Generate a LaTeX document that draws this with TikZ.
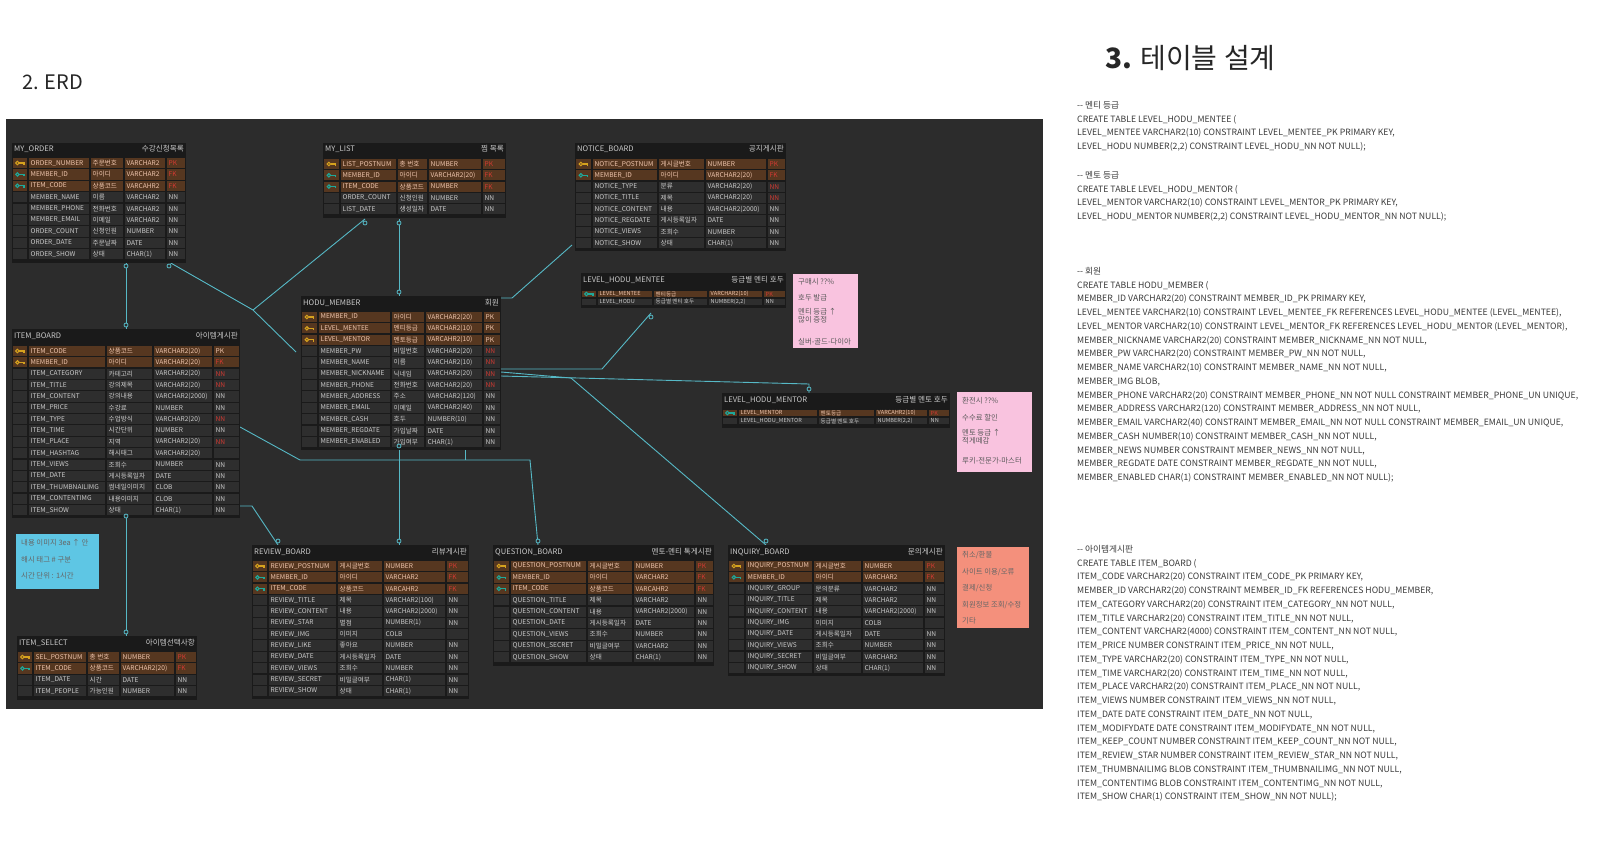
\documentclass[tikz,border=0pt]{standalone}
\usepackage{fontspec}
\setmainfont{Noto Sans CJK KR}
\definecolor{erdbg}{HTML}{2C2C2C}
\definecolor{tabbg}{HTML}{1A1A1A}
\definecolor{cellc}{HTML}{2E2E2E}
\definecolor{brownrow}{HTML}{563720}
\definecolor{celltxt}{HTML}{C9C9C9}
\definecolor{peach}{HTML}{EEC4AC}
\definecolor{conred}{HTML}{D23A32}
\definecolor{keygold}{HTML}{D6A21E}
\definecolor{keyteal}{HTML}{1FA89A}
\definecolor{linec}{HTML}{56B9C6}
\definecolor{pinkc}{HTML}{F9C3DF}
\definecolor{salmonc}{HTML}{F4907C}
\definecolor{cyanc}{HTML}{5EC6E4}
\definecolor{sqltxt}{HTML}{3A3A3A}
\catcode`\_=12
\newcommand{\R}{\color{conred}}
\newcommand{\cellf}{\fontsize{6.6}{7}\selectfont}
\newcommand{\keyicon}[3]{%
  \draw[#1,line width=1.1] ({#2-2.6},#3) circle (1.7);
  \draw[#1,line width=1.1] ({#2-0.9},#3) -- ({#2+4},#3) -- ({#2+4},{#3+1.8});}
\newcommand{\keyp}[2]{\keyicon{keygold}{#1}{#2}}
\newcommand{\keyg}[2]{\keyicon{keygold}{#1}{#2}}
\newcommand{\keyf}[2]{\keyicon{keyteal}{#1}{#2}}
\newcommand{\keyn}[2]{}
% #1 id, #2 title, #3 kor title, #4 cols, #5 ytop, #6 ytitle, #7 yrow0, #8 rowh, #9 rows
\newcommand{\erdtable}[9]{%
 \foreach \xa/\xb/\xc/\xd/\xe/\xf in {#4}{%
  \foreach \k/\n/\kr/\ty/\cn [count=\ii] in {#9}{\xdef\nrows{\ii}}%
  \pgfmathsetmacro{\ybot}{#7+(\nrows-0.5)*#8+2.5}%
  \pgfmathsetmacro{\tw}{\xf-\xa}%
  \pgfmathsetmacro{\th}{\ybot-#5}%
  \node[fill=tabbg,inner sep=0,minimum width=\tw pt,minimum height=\th pt,anchor=north west] (#1) at (\xa,#5) {};
  \node[ttl,anchor=west] (#1-t) at (\xa+2,#6) {#2};
  \node[ttl,anchor=east] (#1-k) at (\xf-2,#6) {#3};
  \foreach \k/\n/\kr/\ty/\cn [count=\i from 0] in {#9}{%
   \pgfmathsetmacro{\yc}{#7+\i*#8}%
   \pgfmathsetmacro{\ya}{\yc-#8/2+0.6}%
   \pgfmathsetmacro{\yb}{\yc+#8/2-0.6}%
   \foreach \u/\v in {\xa/\xb,\xb/\xc,\xc/\xd,\xd/\xe,\xe/\xf}{\fill[row\k] (\u+0.6,\ya) rectangle (\v-0.6,\yb);}%
   \pgfmathsetmacro{\xk}{(\xa+\xb)/2}%
   \csname key\k\endcsname{\xk}{\yc}%
   \node[cellt,txt\k] (#1-\i-a) at (\xb+2.5,\yc) {\n};
   \node[cellt,txt\k] (#1-\i-b) at (\xc+2.5,\yc) {\kr};
   \node[cellt,txt\k] (#1-\i-c) at (\xd+2.5,\yc) {\ty};
   \node[cellt,txt\k] (#1-\i-d) at (\xe+2.5,\yc) {\cn};
  }%
 }}
\begin{document}
\begin{tikzpicture}[x=1pt,y=-1pt,
  ttl/.style={inner sep=0,text=celltxt,font=\fontsize{7.6}{8}\selectfont},
  cellt/.style={anchor=west,inner sep=0,font=\cellf},
  rowp/.style={fill=brownrow}, rowf/.style={fill=brownrow}, rowg/.style={fill=brownrow}, rown/.style={fill=cellc},
  txtp/.style={text=peach}, txtf/.style={text=peach}, txtg/.style={text=peach}, txtn/.style={text=celltxt},
  conn/.style={draw=linec,line width=0.9},
  mk/.style={circle,draw=linec,fill=erdbg,line width=0.8,inner sep=0,minimum size=4},
  note/.style={inner sep=0,anchor=north west},
  notet/.style={anchor=west,inner sep=0,font=\fontsize{7.4}{8}\selectfont},
  sql/.style={anchor=north west,align=left,inner sep=0,text=sqltxt,font=\fontsize{8.7}{13.75}\selectfont}]
\useasboundingbox (0,0) rectangle (1600,852);
\fill[white] (0,0) rectangle (1600,852);
\node[anchor=west,inner sep=0,font=\fontsize{20}{22}\selectfont,text=black!85] (h1) at (22,82) {2. ERD};
\node[anchor=west,inner sep=0,font=\fontsize{28}{30}\selectfont,text=black!85] (h2) at (1105,58) {\textbf{3.} 테이블 설계};
\fill[erdbg] (6,119) rectangle (1043,709);

% ---- connectors (under tables)
\coordinate (a1) at (126,262); \coordinate (a2) at (126,329);
\draw[conn] (a1) -- (a2);
\coordinate (b1) at (169,262); \coordinate (b2) at (253,310); \coordinate (b3) at (296,352);
\draw[conn] (b1) -- (b2) -- (b3);
\coordinate (c1) at (365,219);
\draw[conn] (c1) -- (b2);
\coordinate (d1) at (399,219); \coordinate (d2) at (399,296);
\draw[conn] (d1) -- (d2);
\coordinate (e1) at (572,245); \coordinate (e2) at (512,298); \coordinate (e3) at (501,298);
\draw[conn] (e1) -- (e2) -- (e3);
\coordinate (f1) at (651,313); \coordinate (f2) at (602,369); \coordinate (f3) at (501,369);
\draw[conn] (f1) -- (f2) -- (f3);
\coordinate (g1) at (501,376); \coordinate (g2) at (809,384); \coordinate (g3) at (809,393);
\draw[conn] (g1) -- (g2) -- (g3);
\coordinate (h1a) at (501,372); \coordinate (h2a) at (571,378); \coordinate (h3a) at (766,545);
\draw[conn] (h1a) -- (h2a) -- (h3a);
\coordinate (i1) at (399,442); \coordinate (i2) at (399,545);
\draw[conn] (i1) -- (i2);
\coordinate (j1) at (240,427); \coordinate (j2) at (300,460); \coordinate (j3) at (530,460); \coordinate (j4) at (538,545);
\draw[conn] (j1) -- (j2) -- (j3) -- (j4);
\coordinate (k1) at (240,506); \coordinate (k2) at (252,506); \coordinate (k3) at (278,545);
\draw[conn] (k1) -- (k2) -- (k3);
\coordinate (l1) at (126,512); \coordinate (l2) at (126,636);
\draw[conn] (l1) -- (l2);
\coordinate (m1) at (465,442); \coordinate (m2) at (465,460);
\draw[conn] (m1) -- (m2);

% ---- tables
\erdtable{myorder}{MY_ORDER}{수강신청목록}{12/28/90/124/166/186}{143}{149}{163}{11.4}{
 p/ORDER_NUMBER/주문번호/VARCHAR2/{\R PK},
 f/MEMBER_ID/아이디/VARCHAR2/{\R FK},
 f/ITEM_CODE/상품코드/VARCAHR2/{\R FK},
 n/MEMBER_NAME/이름/VARCHAR2/NN,
 n/MEMBER_PHONE/전화번호/VARCHAR2/NN,
 n/MEMBER_EMAIL/이메일/VARCHAR2/NN,
 n/ORDER_COUNT/신청인원/NUMBER/NN,
 n/ORDER_DATE/주문날짜/DATE/NN,
 n/ORDER_SHOW/상태/CHAR(1)/NN}

\erdtable{mylist}{MY_LIST}{찜 목록}{323/340/397/428/482/506}{143}{149}{164}{11.3}{
 p/LIST_POSTNUM/총 번호/NUMBER/{\R PK},
 f/MEMBER_ID/아이디/VARCHAR2(20)/{\R FK},
 f/ITEM_CODE/상품코드/NUMBER/{\R FK},
 n/ORDER_COUNT/신청인원/NUMBER/NN,
 n/LIST_DATE/생성일자/DATE/NN}

\erdtable{notice}{NOTICE_BOARD}{공지게시판}{575/592/658/705/767/786}{143}{149}{164}{11.3}{
 p/NOTICE_POSTNUM/게시글번호/NUMBER/{\R PK},
 f/MEMBER_ID/아이디/VARCHAR2(20)/{\R FK},
 n/NOTICE_TYPE/분류/VARCHAR2(20)/{\R NN},
 n/NOTICE_TITLE/제목/VARCHAR2(20)/{\R NN},
 n/NOTICE_CONTENT/내용/VARCHAR2(2000)/NN,
 n/NOTICE_REGDATE/게시등록일자/DATE/NN,
 n/NOTICE_VIEWS/조회수/NUMBER/NN,
 n/NOTICE_SHOW/상태/CHAR(1)/NN}

\erdtable{hodu}{HODU_MEMBER}{회원}{301/318/391/425/483/501}{296}{303}{317}{11.36}{
 g/MEMBER_ID/아이디/VARCHAR2(20)/PK,
 g/LEVEL_MENTEE/멘티등급/VARCHAR2(10)/PK,
 g/LEVEL_MENTOR/멘토등급/VARCAHR2(10)/PK,
 n/MEMBER_PW/비밀번호/VARCHAR2(20)/{\R NN},
 n/MEMBER_NAME/이름/VARCHAR2(10)/{\R NN},
 n/MEMBER_NICKNAME/닉네임/VARCHAR2(20)/{\R NN},
 n/MEMBER_PHONE/전화번호/VARCHAR2(20)/{\R NN},
 n/MEMBER_ADDRESS/주소/VARCHAR2(120)/NN,
 n/MEMBER_EMAIL/이메일/VARCHAR2(40)/NN,
 n/MEMBER_CASH/호두/NUMBER(10)/NN,
 n/MEMBER_REGDATE/가입날짜/DATE/NN,
 n/MEMBER_ENABLED/가입여부/CHAR(1)/NN}

\erdtable{itemboard}{ITEM_BOARD}{아이템게시판}{12/28/106/153/213/240}{329}{336}{351}{11.36}{
 g/ITEM_CODE/상품코드/VARCHAR2(20)/PK,
 g/MEMBER_ID/아이디/VARCHAR2(20)/{\R FK},
 n/ITEM_CATEGORY/카테고리/VARCHAR2(20)/{\R NN},
 n/ITEM_TITLE/강의제목/VARCHAR2(20)/{\R NN},
 n/ITEM_CONTENT/강의내용/VARCHAR2(2000)/NN,
 n/ITEM_PRICE/수강료/NUMBER/NN,
 n/ITEM_TYPE/수업방식/VARCHAR2(20)/{\R NN},
 n/ITEM_TIME/시간단위/NUMBER/NN,
 n/ITEM_PLACE/지역/VARCHAR2(20)/{\R NN},
 n/ITEM_HASHTAG/해시태그/VARCHAR2(20)/{},
 n/ITEM_VIEWS/조회수/NUMBER/NN,
 n/ITEM_DATE/게시등록일자/DATE/NN,
 n/ITEM_THUMBNAILIMG/썸네일이미지/CLOB/NN,
 n/ITEM_CONTENTIMG/내용이미지/CLOB/NN,
 n/ITEM_SHOW/상태/CHAR(1)/NN}

\erdtable{itemsel}{ITEM_SELECT}{아이템선택사항}{17/33/87/120/175/197}{636}{643}{657}{11.4}{
 p/SEL_POSTNUM/총 번호/NUMBER/{\R PK},
 f/ITEM_CODE/상품코드/VARCHAR2(20)/{\R FK},
 n/ITEM_DATE/시간/DATE/NN,
 n/ITEM_PEOPLE/가능인원/NUMBER/NN}

\erdtable{review}{REVIEW_BOARD}{리뷰게시판}{252/268/337/383/446/469}{545}{552}{566}{11.36}{
 p/REVIEW_POSTNUM/게시글번호/NUMBER/{\R PK},
 f/MEMBER_ID/아이디/VARCHAR2/{\R FK},
 f/ITEM_CODE/상품코드/VARCAHR2/{\R FK},
 n/REVIEW_TITLE/제목/VARCHAR2(100)/NN,
 n/REVIEW_CONTENT/내용/VARCHAR2(2000)/NN,
 n/REVIEW_STAR/별점/NUMBER(1)/NN,
 n/REVIEW_IMG/이미지/COLB/{},
 n/REVIEW_LIKE/좋아요/NUMBER/NN,
 n/REVIEW_DATE/게시등록일자/DATE/NN,
 n/REVIEW_VIEWS/조회수/NUMBER/NN,
 n/REVIEW_SECRET/비밀글여부/CHAR(1)/NN,
 n/REVIEW_SHOW/상태/CHAR(1)/NN}

\erdtable{question}{QUESTION_BOARD}{멘토-멘티 톡게시판}{493/510/587/633/695/714}{545}{552}{566}{11.4}{
 p/QUESTION_POSTNUM/게시글번호/NUMBER/{\R PK},
 f/MEMBER_ID/아이디/VARCHAR2/{\R FK},
 f/ITEM_CODE/상품코드/VARCAHR2/{\R FK},
 n/QUESTION_TITLE/제목/VARCHAR2/NN,
 n/QUESTION_CONTENT/내용/VARCHAR2(2000)/NN,
 n/QUESTION_DATE/게시등록일자/DATE/NN,
 n/QUESTION_VIEWS/조회수/NUMBER/NN,
 n/QUESTION_SECRET/비밀글여부/VARCHAR2/NN,
 n/QUESTION_SHOW/상태/CHAR(1)/NN}

\erdtable{inquiry}{INQUIRY_BOARD}{문의게시판}{728/745/813/862/924/945}{545}{552}{566}{11.33}{
 p/INQUIRY_POSTNUM/게시글번호/NUMBER/{\R PK},
 f/MEMBER_ID/아이디/VARCHAR2/{\R FK},
 n/INQUIRY_GROUP/문의분류/VARCHAR2/NN,
 n/INQUIRY_TITLE/제목/VARCHAR2/NN,
 n/INQUIRY_CONTENT/내용/VARCHAR2(2000)/NN,
 n/INQUIRY_IMG/이미지/COLB/{},
 n/INQUIRY_DATE/게시등록일자/DATE/NN,
 n/INQUIRY_VIEWS/조회수/NUMBER/NN,
 n/INQUIRY_SECRET/비밀글여부/VARCHAR2/NN,
 n/INQUIRY_SHOW/상태/CHAR(1)/NN}

\renewcommand{\cellf}{\fontsize{5.6}{6}\selectfont}
\erdtable{mentee}{LEVEL_HODU_MENTEE}{등급별 멘티 호두}{581/597/653/708/763/786}{273}{280}{294}{7.8}{
 f/LEVEL_MENTEE/멘티등급/VARCHAR2(10)/{\R PK},
 n/LEVEL_HODU/등급별 멘티 호두/{NUMBER(2,2)}/NN}
\erdtable{mentor}{LEVEL_HODU_MENTOR}{등급별 멘토 호두}{722/738/818/875/928/950}{393}{400}{413}{7.9}{
 f/LEVEL_MENTOR/멘토등급/VARCAHR2(10)/{\R PK},
 n/LEVEL_HODU_MENTOR/등급별 멘토 호두/{NUMBER(2,2)}/NN}

% ---- end markers
\foreach \p/\nm in {(126,266)/ma,(169,266)/mb,(365,223)/mc,(399,223)/md,(399,292)/me,(126,325)/mf,(126,516)/mg,(126,632)/mh,(399,446)/mi,(399,541)/mj,(278,541)/mk,(538,541)/ml,(766,541)/mm,(651,317)/mn,(809,389)/mo}
  \node[mk] (\nm) at \p {};

% ---- notes
\node[note,fill=pinkc,minimum width=65pt,minimum height=74pt] (pk1) at (793,274) {};
\node[notet,text=black!65] (pk1a) at (798,282) {구매시 ??\%};
\node[notet,text=black!65] (pk1b) at (798,298) {호두 발급};
\node[notet,text=black!65] (pk1c) at (798,312) {멘티 등급 ↑};
\node[notet,text=black!65] (pk1d) at (798,320) {많이 증정};
\node[notet,text=black!65] (pk1e) at (798,342) {실버-골드-다이아};

\node[note,fill=pinkc,minimum width=75pt,minimum height=80pt] (pk2) at (957,392) {};
\node[notet,text=black!65] (pk2a) at (962,401) {환전시 ??\%};
\node[notet,text=black!65] (pk2b) at (962,418) {수수료 할인};
\node[notet,text=black!65] (pk2c) at (962,433) {멘토 등급 ↑};
\node[notet,text=black!65] (pk2d) at (962,441) {적게떼감};
\node[notet,text=black!65] (pk2e) at (962,461) {루키-전문가-마스터};

\node[note,fill=salmonc,minimum width=72pt,minimum height=81pt] (sm) at (957,547) {};
\node[notet,text=black!60] (sma) at (962,555) {취소/환불};
\node[notet,text=black!60] (smb) at (962,572) {사이트 이용/오류};
\node[notet,text=black!60] (smc) at (962,588) {결제/신청};
\node[notet,text=black!60] (smd) at (962,605) {회원정보 조회/수정};
\node[notet,text=black!60] (sme) at (962,621) {기타};

\node[note,fill=cyanc,minimum width=83pt,minimum height=55pt] (cy) at (16,534) {};
\node[notet,text=black!60] (cya) at (21,543) {내용 이미지 3ea ↑ 안};
\node[notet,text=black!60] (cyb) at (21,560) {해시 태그 \# 구분};
\node[notet,text=black!60] (cyc) at (21,576) {시간 단위 : 1시간};

% ---- SQL text
\node[sql] (s1) at (1077,101) {-{}- 멘티 등급\\
CREATE TABLE LEVEL_HODU_MENTEE (\\
LEVEL_MENTEE VARCHAR2(10) CONSTRAINT LEVEL_MENTEE_PK PRIMARY KEY,\\
LEVEL_HODU NUMBER(2,2) CONSTRAINT LEVEL_HODU_NN NOT NULL);};
\node[sql] (s2) at (1077,171) {-{}- 멘토 등급\\
CREATE TABLE LEVEL_HODU_MENTOR (\\
LEVEL_MENTOR VARCHAR2(10) CONSTRAINT LEVEL_MENTOR_PK PRIMARY KEY,\\
LEVEL_HODU_MENTOR NUMBER(2,2) CONSTRAINT LEVEL_HODU_MENTOR_NN NOT NULL);};
\node[sql] (s3) at (1077,267) {-{}- 회원\\
CREATE TABLE HODU_MEMBER (\\
MEMBER_ID VARCHAR2(20) CONSTRAINT MEMBER_ID_PK PRIMARY KEY,\\
LEVEL_MENTEE VARCHAR2(10) CONSTRAINT LEVEL_MENTEE_FK REFERENCES LEVEL_HODU_MENTEE (LEVEL_MENTEE),\\
LEVEL_MENTOR VARCHAR2(10) CONSTRAINT LEVEL_MENTOR_FK REFERENCES LEVEL_HODU_MENTOR (LEVEL_MENTOR),\\
MEMBER_NICKNAME VARCHAR2(20) CONSTRAINT MEMBER_NICKNAME_NN NOT NULL,\\
MEMBER_PW VARCHAR2(20) CONSTRAINT MEMBER_PW_NN NOT NULL,\\
MEMBER_NAME VARCHAR2(10) CONSTRAINT MEMBER_NAME_NN NOT NULL,\\
MEMBER_IMG BLOB,\\
MEMBER_PHONE VARCHAR2(20) CONSTRAINT MEMBER_PHONE_NN NOT NULL CONSTRAINT MEMBER_PHONE_UN UNIQUE,\\
MEMBER_ADDRESS VARCHAR2(120) CONSTRAINT MEMBER_ADDRESS_NN NOT NULL,\\
MEMBER_EMAIL VARCHAR2(40) CONSTRAINT MEMBER_EMAIL_NN NOT NULL CONSTRAINT MEMBER_EMAIL_UN UNIQUE,\\
MEMBER_CASH NUMBER(10) CONSTRAINT MEMBER_CASH_NN NOT NULL,\\
MEMBER_NEWS NUMBER CONSTRAINT MEMBER_NEWS_NN NOT NULL,\\
MEMBER_REGDATE DATE CONSTRAINT MEMBER_REGDATE_NN NOT NULL,\\
MEMBER_ENABLED CHAR(1) CONSTRAINT MEMBER_ENABLED_NN NOT NULL);};
\node[sql] (s4) at (1077,545) {-{}- 아이템게시판\\
CREATE TABLE ITEM_BOARD (\\
ITEM_CODE VARCHAR2(20) CONSTRAINT ITEM_CODE_PK PRIMARY KEY,\\
MEMBER_ID VARCHAR2(20) CONSTRAINT MEMBER_ID_FK REFERENCES HODU_MEMBER,\\
ITEM_CATEGORY VARCHAR2(20) CONSTRAINT ITEM_CATEGORY_NN NOT NULL,\\
ITEM_TITLE VARCHAR2(20) CONSTRAINT ITEM_TITLE_NN NOT NULL,\\
ITEM_CONTENT VARCHAR2(4000) CONSTRAINT ITEM_CONTENT_NN NOT NULL,\\
ITEM_PRICE NUMBER CONSTRAINT ITEM_PRICE_NN NOT NULL,\\
ITEM_TYPE VARCHAR2(20) CONSTRAINT ITEM_TYPE_NN NOT NULL,\\
ITEM_TIME VARCHAR2(20) CONSTRAINT ITEM_TIME_NN NOT NULL,\\
ITEM_PLACE VARCHAR2(20) CONSTRAINT ITEM_PLACE_NN NOT NULL,\\
ITEM_VIEWS NUMBER CONSTRAINT ITEM_VIEWS_NN NOT NULL,\\
ITEM_DATE DATE CONSTRAINT ITEM_DATE_NN NOT NULL,\\
ITEM_MODIFYDATE DATE CONSTRAINT ITEM_MODIFYDATE_NN NOT NULL,\\
ITEM_KEEP_COUNT NUMBER CONSTRAINT ITEM_KEEP_COUNT_NN NOT NULL,\\
ITEM_REVIEW_STAR NUMBER CONSTRAINT ITEM_REVIEW_STAR_NN NOT NULL,\\
ITEM_THUMBNAILIMG BLOB CONSTRAINT ITEM_THUMBNAILIMG_NN NOT NULL,\\
ITEM_CONTENTIMG BLOB CONSTRAINT ITEM_CONTENTIMG_NN NOT NULL,\\
ITEM_SHOW CHAR(1) CONSTRAINT ITEM_SHOW_NN NOT NULL);};
\end{tikzpicture}
\end{document}
